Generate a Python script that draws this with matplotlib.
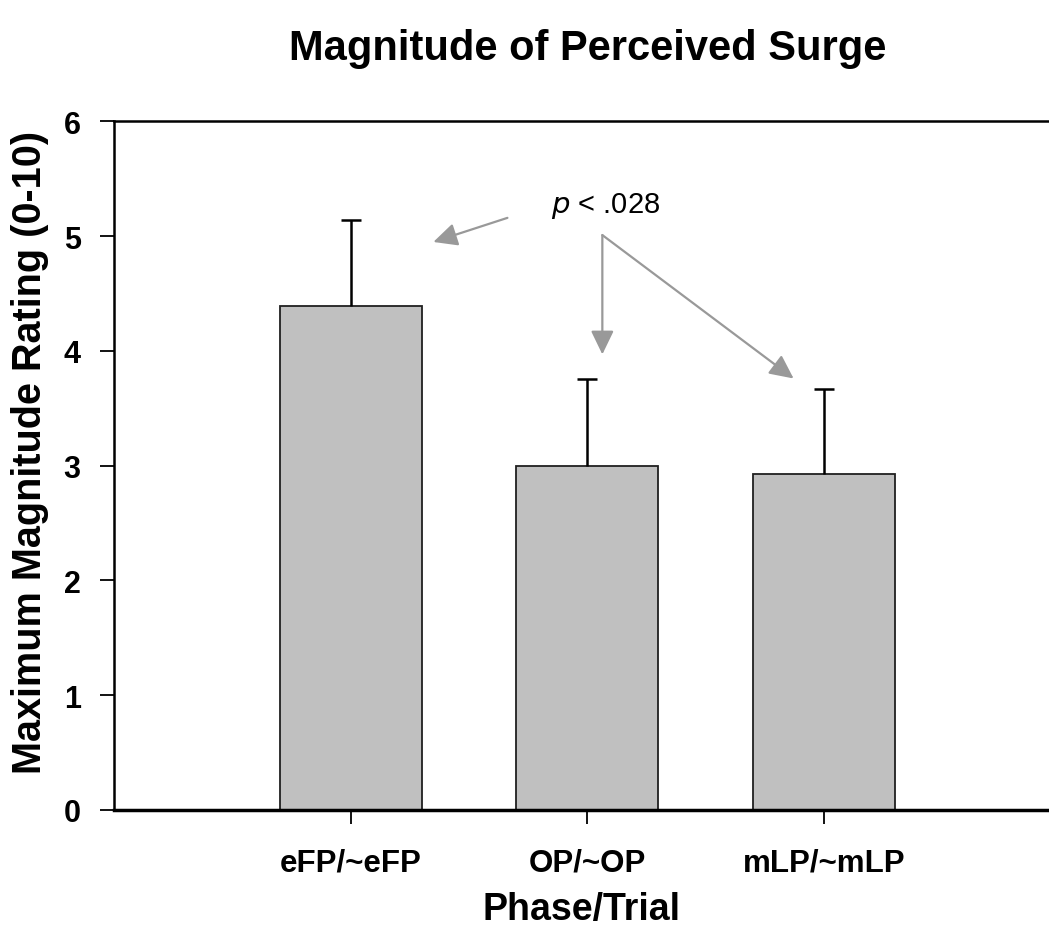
import matplotlib
matplotlib.use("Agg")
import matplotlib.pyplot as plt

# datos
fases = ["eFP/~eFP", "OP/~OP", "mLP/~mLP"]
medias = [4.39, 3.00, 2.93]
errores = [0.75, 0.76, 0.74]
posiciones = [1, 2, 3]

plt.rcParams['font.family'] = ['Liberation Sans', 'DejaVu Sans']

fig = plt.figure(figsize=(10.49, 9.37), dpi=100)
ax = fig.add_axes([0.1087, 0.1345, 0.8913, 0.7348])

ax.bar(posiciones, medias, width=0.6, color='#c0c0c0', edgecolor='#202020',
       linewidth=1.3, zorder=2)
_, caps, _ = ax.errorbar(posiciones, medias, yerr=[[0, 0, 0], errores], fmt='none',
                         ecolor='black', elinewidth=1.8, capsize=7.2, capthick=1.8,
                         zorder=3)
caps[0].set_visible(False)  # sin tapa abajo

ax.set_xlim(0, 3.95)
ax.set_ylim(0, 6)
ax.set_xticks(posiciones)
ax.set_xticklabels(fases, fontsize=22.5, fontweight='bold')
ax.set_yticks(range(7))
ax.set_yticklabels([str(i) for i in range(7)], fontsize=22, fontweight='heavy')
ax.tick_params(axis='both', direction='out', length=10, width=1.3)
ax.tick_params(axis='x', pad=17)
ax.tick_params(axis='y', pad=14)

ax.spines['right'].set_visible(False)
for s in ['left', 'top']:
    ax.spines[s].set_linewidth(1.8)
ax.spines['bottom'].set_linewidth(2.5)

ax.set_xlabel("Phase/Trial", fontsize=27, fontweight='bold', labelpad=10)
ax.set_ylabel("Maximum Magnitude Rating (0-10)", fontsize=28.5, fontweight='bold')
ax.yaxis.set_label_coords(-0.07, 0.521)
fig.text(0.56, 0.948, "Magnitude of Perceived Surge", fontsize=30,
         fontweight='bold', ha='center', va='center')

# anotacion de significancia
ax.text(2.075, 5.27, r"$\it{p}$ < .028", fontsize=21, ha='center', va='center')
flecha = dict(arrowstyle='-|>,head_length=1.45,head_width=0.7', color='#999999',
              lw=1.6, shrinkA=0, shrinkB=0)
ax.annotate("", xy=(1.349, 4.95), xytext=(1.662, 5.16), arrowprops=flecha)
ax.annotate("", xy=(2.063, 3.97), xytext=(2.063, 5.01), arrowprops=flecha)
ax.annotate("", xy=(2.871, 3.76), xytext=(2.063, 5.01), arrowprops=flecha)

fig.savefig("out.png", dpi=100)
